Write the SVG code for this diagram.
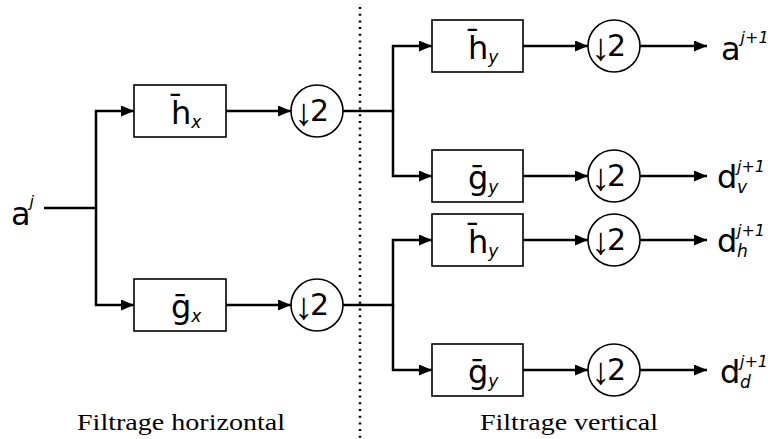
<svg xmlns="http://www.w3.org/2000/svg" width="768" height="439" viewBox="0 0 768 439">
<style>
.box{fill:#fff;stroke:#000;stroke-width:1.6}
.circ{fill:#fff;stroke:#000;stroke-width:1.6}
.wire{fill:none;stroke:#000;stroke-width:2.5}
.lbl{font-family:"DejaVu Sans",sans-serif;font-size:32px;fill:#000}
.dn{font-family:"DejaVu Sans",sans-serif;font-size:30px;fill:#000}
.sub{font-family:"DejaVu Sans",sans-serif;font-size:17px;font-style:italic}
.sup{font-family:"DejaVu Sans",sans-serif;font-size:16px;font-style:italic}
.arr{font-family:"Liberation Sans",sans-serif;font-size:38px}
.cap{font-family:"Liberation Serif",serif;font-size:24px;fill:#000}
</style>
<defs>
<marker id="ah" markerUnits="userSpaceOnUse" markerWidth="13" markerHeight="11" refX="13" refY="5.5" orient="auto">
<path d="M0,0 L13,5.5 L0,11 z" fill="#000"/>
</marker>
</defs>
<g id="connectors">
<path class="wire" d="M360,7 V439" stroke-width="2.2" stroke-dasharray="2 4.7"/>
<path class="wire" d="M44,208 H96"/>
<path class="wire" d="M96,208 V111 H134" marker-end="url(#ah)"/>
<path class="wire" d="M96,208 V305 H134" marker-end="url(#ah)"/>
<path class="wire" d="M226,111 H291" marker-end="url(#ah)"/>
<path class="wire" d="M226,305 H291" marker-end="url(#ah)"/>
<path class="wire" d="M343,111 H393 V46 H432" marker-end="url(#ah)"/>
<path class="wire" d="M393,111 V176 H432" marker-end="url(#ah)"/>
<path class="wire" d="M343,305 H393 V240 H432" marker-end="url(#ah)"/>
<path class="wire" d="M393,305 V370 H432" marker-end="url(#ah)"/>
<path class="wire" d="M523,46 H588" marker-end="url(#ah)"/>
<path class="wire" d="M523,176 H588" marker-end="url(#ah)"/>
<path class="wire" d="M523,240 H588" marker-end="url(#ah)"/>
<path class="wire" d="M523,370 H588" marker-end="url(#ah)"/>
<path class="wire" d="M640,46 H707" marker-end="url(#ah)"/>
<path class="wire" d="M640,176 H707" marker-end="url(#ah)"/>
<path class="wire" d="M640,240 H707" marker-end="url(#ah)"/>
<path class="wire" d="M640,370 H707" marker-end="url(#ah)"/>
</g>
<g id="input">
<text class="lbl" x="11" y="225">a<tspan class="sup" font-size="14" dx="-1" dy="-18">j</tspan></text>
</g>
<g id="hx">
<rect class="box" x="134" y="85" width="92" height="52"/>
<text class="lbl" x="171" y="124">h̄<tspan class="sub" dy="4">x</tspan></text>
</g>
<g id="gx">
<rect class="box" x="134" y="279" width="92" height="52"/>
<text class="lbl" x="171" y="318">ḡ<tspan class="sub" dy="4">x</tspan></text>
</g>
<g id="down1">
<circle class="circ" cx="317" cy="111" r="26"/>
<text class="dn" y="121"><tspan class="arr" x="294" dy="4">↓</tspan><tspan x="310" dy="-4">2</tspan></text>
</g>
<g id="down2">
<circle class="circ" cx="317" cy="305" r="26"/>
<text class="dn" y="315"><tspan class="arr" x="294" dy="4">↓</tspan><tspan x="310" dy="-4">2</tspan></text>
</g>
<g id="hy1">
<rect class="box" x="432" y="20" width="91" height="52"/>
<text class="lbl" x="468" y="59">h̄<tspan class="sub" dy="4">y</tspan></text>
</g>
<g id="gy1">
<rect class="box" x="432" y="150" width="91" height="52"/>
<text class="lbl" x="468" y="189">ḡ<tspan class="sub" dy="4">y</tspan></text>
</g>
<g id="hy2">
<rect class="box" x="432" y="214" width="91" height="52"/>
<text class="lbl" x="468" y="253">h̄<tspan class="sub" dy="4">y</tspan></text>
</g>
<g id="gy2">
<rect class="box" x="432" y="344" width="91" height="52"/>
<text class="lbl" x="468" y="383">ḡ<tspan class="sub" dy="4">y</tspan></text>
</g>
<g id="down3">
<circle class="circ" cx="614" cy="46" r="26"/>
<text class="dn" y="56"><tspan class="arr" x="591" dy="4">↓</tspan><tspan x="607" dy="-4">2</tspan></text>
</g>
<g id="down4">
<circle class="circ" cx="614" cy="176" r="26"/>
<text class="dn" y="186"><tspan class="arr" x="591" dy="4">↓</tspan><tspan x="607" dy="-4">2</tspan></text>
</g>
<g id="down5">
<circle class="circ" cx="614" cy="240" r="26"/>
<text class="dn" y="250"><tspan class="arr" x="591" dy="4">↓</tspan><tspan x="607" dy="-4">2</tspan></text>
</g>
<g id="down6">
<circle class="circ" cx="614" cy="370" r="26"/>
<text class="dn" y="380"><tspan class="arr" x="591" dy="4">↓</tspan><tspan x="607" dy="-4">2</tspan></text>
</g>
<g id="out-a">
<text class="lbl" x="721" y="60">a<tspan class="sup" dy="-17">j+1</tspan></text>
</g>
<g id="out-dv">
<text class="lbl" x="717" y="188">d<tspan class="sup" x="737" dy="-16">j+1</tspan><tspan class="sub" x="737" dy="21">v</tspan></text>
</g>
<g id="out-dh">
<text class="lbl" x="717" y="252">d<tspan class="sup" x="737" dy="-16">j+1</tspan><tspan class="sub" x="737" dy="21">h</tspan></text>
</g>
<g id="out-dd">
<text class="lbl" x="720" y="383">d<tspan class="sup" x="740" dy="-16">j+1</tspan><tspan class="sub" x="740" dy="21">d</tspan></text>
</g>
<g id="captions">
<text class="cap" x="181" y="430" text-anchor="middle" textLength="208" lengthAdjust="spacingAndGlyphs">Filtrage horizontal</text>
<text class="cap" x="569" y="430" text-anchor="middle" textLength="178" lengthAdjust="spacingAndGlyphs">Filtrage vertical</text>
</g>
</svg>
